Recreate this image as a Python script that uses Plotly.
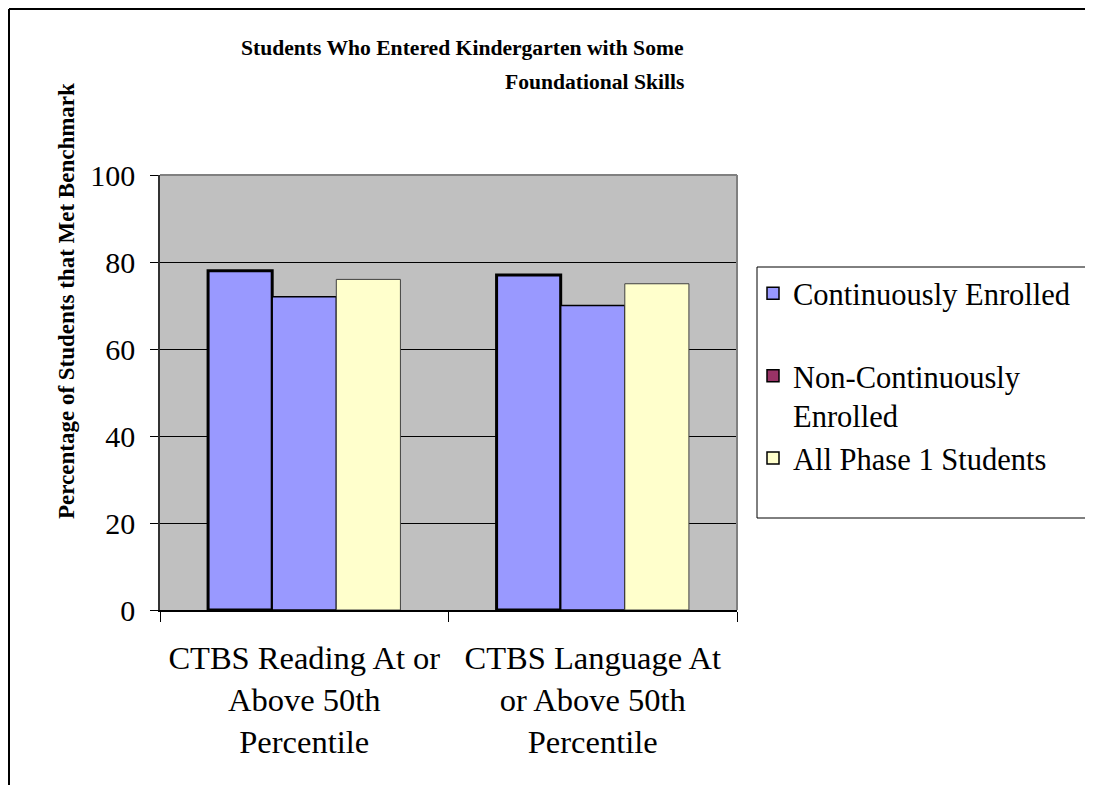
import plotly.graph_objects as go

categories = ["CTBS Reading At or<br>Above 50th<br>Percentile",
              "CTBS Language At<br>or Above 50th<br>Percentile"]
series_names = ["Continuously Enrolled", "Non-Continuously Enrolled", "All Phase 1 Students"]
continuously = [78, 77]
non_continuously = [72, 70]
all_phase1 = [76, 75]
y_ticks = [0, 20, 40, 60, 80, 100]

FONT = "Liberation Serif, Times New Roman, serif"
W, H = 1093, 785
OFF = 8  # page body margin offset
L, T = 152, 167
PW, PH = 577, 435
R = W - L - PW
B = H - T - PH


def px(x):
    # screen x -> paper
    return (x - OFF - L) / PW


def py(y):
    # screen y -> paper
    return (OFF + T + PH - y) / PH


fig = go.Figure()
fig.add_trace(go.Bar(x=categories, y=continuously, name=series_names[0], showlegend=False,
                     marker=dict(color="#9999ff", line=dict(color="#000000", width=3))))
fig.add_trace(go.Bar(x=categories, y=non_continuously, name=series_names[1], showlegend=False,
                     marker=dict(color="#9999ff", line=dict(color="#000000", width=1.5))))
fig.add_trace(go.Bar(x=categories, y=all_phase1, name=series_names[2], showlegend=False,
                     marker=dict(color="#ffffcc", line=dict(color="#404040", width=1))))

# legend entries
legend_labels = ["Continuously Enrolled<br> ", "Non-Continuously<br>Enrolled", "All Phase 1 Students"]
legend_colors = ["#9999ff", "#993366", "#ffffcc"]
for i, (lab, col) in enumerate(zip(legend_labels, legend_colors)):
    fig.add_trace(go.Scatter(x=[None], y=[None], mode="markers", name=lab,
                             legendgroup=f"g{i}", legendrank=i + 1,
                             marker=dict(symbol="square", size=12, color=col,
                                         line=dict(color="#000000", width=1.5))))

fig.update_layout(
    width=W, height=H,
    margin=dict(l=L, r=R, t=T, b=B, autoexpand=False),
    paper_bgcolor="white", plot_bgcolor="#c0c0c0",
    font=dict(family=FONT, color="#000000", size=30),
    barmode="group", bargap=1 / 3, bargroupgap=0,
    showlegend=True,
    legend=dict(x=px(753), y=py(267), xanchor="left", yanchor="top",
                font=dict(family=FONT, size=30.5, color="#000000"),
                valign="top", tracegroupgap=0, bgcolor="rgba(0,0,0,0)",
                itemclick=False),
    xaxis=dict(type="category", tickson="boundaries", ticks="outside", ticklen=10,
               tickcolor="#000000", showline=True, linecolor="#000000", linewidth=1.5,
               showgrid=False, tickfont=dict(family=FONT, size=32.5),
               ticklabelstandoff=18),
    yaxis=dict(range=[0, 100], tickvals=y_ticks, ticks="outside", ticklen=8,
               tickcolor="#000000", showline=True, linecolor="#333333", linewidth=1.5,
               showgrid=True, gridcolor="#000000", gridwidth=1, zeroline=False,
               tickfont=dict(family=FONT, size=30), ticklabelstandoff=9),
    annotations=[
        dict(text="<b>Students Who Entered Kindergarten with Some</b>", xref="paper", yref="paper",
             x=px(462.5), y=py(48), xanchor="center", yanchor="middle", showarrow=False,
             font=dict(family=FONT, size=21.6)),
        dict(text="<b>Foundational Skills</b>", xref="paper", yref="paper",
             x=px(594), y=py(82), xanchor="center", yanchor="middle", showarrow=False,
             font=dict(family=FONT, size=21.6)),
        dict(text="<b>Percentage of Students that Met Benchmark</b>", xref="paper", yref="paper",
             x=px(66), y=py(301), xanchor="center", yanchor="middle", showarrow=False,
             textangle=-90, font=dict(family=FONT, size=23)),
    ],
    shapes=[
        # plot area top/right border
        dict(type="line", xref="paper", yref="paper", x0=0, x1=1, y0=1, y1=1,
             line=dict(color="#808080", width=2), layer="above"),
        dict(type="line", xref="paper", yref="paper", x0=1, x1=1, y0=0, y1=1,
             line=dict(color="#808080", width=2), layer="above"),
        # legend box
        dict(type="rect", xref="paper", yref="paper", x0=px(757), x1=px(1110),
             y0=py(518), y1=py(267), line=dict(color="#000000", width=1)),
        # outer chart frame
        dict(type="line", xref="paper", yref="paper", x0=px(9), x1=px(9), y0=py(800), y1=py(9),
             line=dict(color="#000000", width=2)),
        dict(type="line", xref="paper", yref="paper", x0=px(9), x1=px(1110), y0=py(9), y1=py(9),
             line=dict(color="#000000", width=2)),
    ],
)

fig.write_html("out.html")
